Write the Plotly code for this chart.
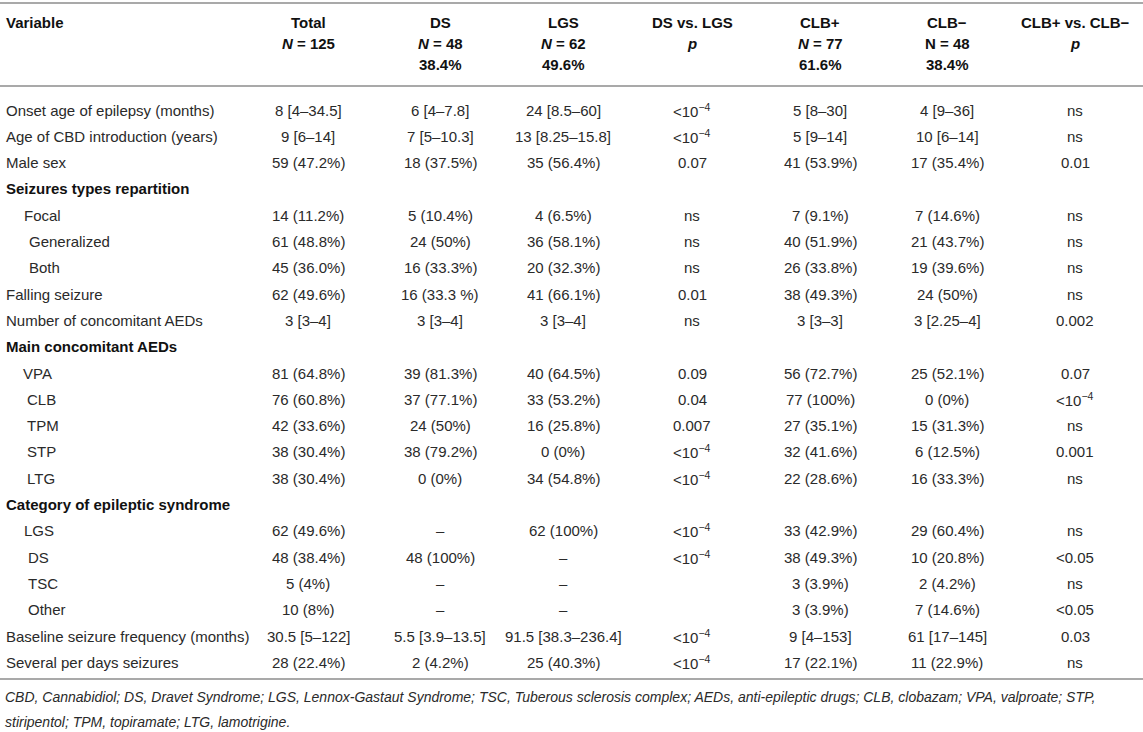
import plotly.graph_objects as go

# ---- table content ----
variables = [
    "Onset age of epilepsy (months)",
    "Age of CBD introduction (years)",
    "Male sex",
    "Seizures types repartition",
    "Focal",
    "Generalized",
    "Both",
    "Falling seizure",
    "Number of concomitant AEDs",
    "Main concomitant AEDs",
    "VPA",
    "CLB",
    "TPM",
    "STP",
    "LTG",
    "Category of epileptic syndrome",
    "LGS",
    "DS",
    "TSC",
    "Other",
    "Baseline seizure frequency (months)",
    "Several per days seizures",
]
sections = ["Seizures types repartition", "Main concomitant AEDs", "Category of epileptic syndrome"]

LT4 = "&lt;10<sup>−4</sup>"

total = ["8 [4–34.5]", "9 [6–14]", "59 (47.2%)", "", "14 (11.2%)", "61 (48.8%)", "45 (36.0%)",
         "62 (49.6%)", "3 [3–4]", "", "81 (64.8%)", "76 (60.8%)", "42 (33.6%)", "38 (30.4%)",
         "38 (30.4%)", "", "62 (49.6%)", "48 (38.4%)", "5 (4%)", "10 (8%)", "30.5 [5–122]",
         "28 (22.4%)"]
ds = ["6 [4–7.8]", "7 [5–10.3]", "18 (37.5%)", "", "5 (10.4%)", "24 (50%)", "16 (33.3%)",
      "16 (33.3 %)", "3 [3–4]", "", "39 (81.3%)", "37 (77.1%)", "24 (50%)", "38 (79.2%)",
      "0 (0%)", "", "–", "48 (100%)", "–", "–", "5.5 [3.9–13.5]", "2 (4.2%)"]
lgs = ["24 [8.5–60]", "13 [8.25–15.8]", "35 (56.4%)", "", "4 (6.5%)", "36 (58.1%)", "20 (32.3%)",
       "41 (66.1%)", "3 [3–4]", "", "40 (64.5%)", "33 (53.2%)", "16 (25.8%)", "0 (0%)",
       "34 (54.8%)", "", "62 (100%)", "–", "–", "–", "91.5 [38.3–236.4]", "25 (40.3%)"]
p_ds_lgs = [LT4, LT4, "0.07", "", "ns", "ns", "ns", "0.01", "ns", "", "0.09", "0.04", "0.007",
            LT4, LT4, "", LT4, LT4, "", "", LT4, LT4]
clb_pos = ["5 [8–30]", "5 [9–14]", "41 (53.9%)", "", "7 (9.1%)", "40 (51.9%)", "26 (33.8%)",
           "38 (49.3%)", "3 [3–3]", "", "56 (72.7%)", "77 (100%)", "27 (35.1%)", "32 (41.6%)",
           "22 (28.6%)", "", "33 (42.9%)", "38 (49.3%)", "3 (3.9%)", "3 (3.9%)", "9 [4–153]",
           "17 (22.1%)"]
clb_neg = ["4 [9–36]", "10 [6–14]", "17 (35.4%)", "", "7 (14.6%)", "21 (43.7%)", "19 (39.6%)",
           "24 (50%)", "3 [2.25–4]", "", "25 (52.1%)", "0 (0%)", "15 (31.3%)", "6 (12.5%)",
           "16 (33.3%)", "", "29 (60.4%)", "10 (20.8%)", "2 (4.2%)", "7 (14.6%)", "61 [17–145]",
           "11 (22.9%)"]
p_clb = ["ns", "ns", "0.01", "", "ns", "ns", "ns", "ns", "0.002", "", "0.07", LT4, "ns", "0.001",
         "ns", "", "ns", "&lt;0.05", "ns", "&lt;0.05", "0.03", "ns"]

headers = [
    "<b>Total</b><br><b><i>N</i> = 125</b>",
    "<b>DS</b><br><b><i>N</i> = 48</b><br><b>38.4%</b>",
    "<b>LGS</b><br><b><i>N</i> = 62</b><br><b>49.6%</b>",
    "<b>DS vs. LGS</b><br><b><i>p</i></b>",
    "<b>CLB+</b><br><b><i>N</i> = 77</b><br><b>61.6%</b>",
    "<b>CLB−</b><br><b>N = 48</b><br><b>38.4%</b>",
    "<b>CLB+ vs. CLB−</b><br><b><i>p</i></b>",
]

footnote = [
    "CBD, Cannabidiol; DS, Dravet Syndrome; LGS, Lennox-Gastaut Syndrome; TSC, Tuberous sclerosis "
    "complex; AEDs, anti-epileptic drugs; CLB, clobazam; VPA, valproate; STP,",
    "stiripentol; TPM, topiramate; LTG, lamotrigine.",
]

# ---- layout ----
W, H = 1143, 732
col_x = [308, 440, 563, 692, 820, 947, 1075]
row_y0, row_step = 110, 26.3
head_y, head_step = 22, 21
indent = {"Focal": 18, "Generalized": 23, "Both": 23, "VPA": 17, "CLB": 21, "TPM": 21, "STP": 21,
          "LTG": 21, "LGS": 18, "DS": 22, "TSC": 22, "Other": 22}
FONT = "Liberation Sans, Arial, Helvetica, sans-serif"
TXT = "#2a2a2a"
RULE = "#a9a9a9"
fs = 15

ann = []


def add(x, y, text, anchor="center", size=fs, color=TXT):
    ann.append(dict(x=x, y=y, xref="x", yref="y", text=text, showarrow=False,
                    xanchor=anchor, yanchor="middle", align=anchor if anchor != "center" else "center",
                    font=dict(family=FONT, size=size, color=color)))


add(4, head_y, "<b>Variable</b>", "left", color="#111111")
for cx, h in zip(col_x, headers):
    for j, part in enumerate(h.split("<br>")):
        add(cx, head_y + j * head_step, part, color="#111111")

columns = [total, ds, lgs, p_ds_lgs, clb_pos, clb_neg, p_clb]
for i, var in enumerate(variables):
    y = row_y0 + i * row_step
    if var in sections:
        add(4, y, f"<b>{var}</b>", "left", color="#111111")
        continue
    add(4 + indent.get(var, 0), y, var, "left")
    for cx, col in zip(col_x, columns):
        if col[i]:
            add(cx, y, col[i])

for k, line in enumerate(footnote):
    add(3, 697 + k * 25, f"<i>{line}</i>", "left", size=14)

shapes = [dict(type="line", xref="x", yref="y", x0=0, x1=W, y0=yy, y1=yy,
               line=dict(color=RULE, width=2)) for yy in (3, 86, 679)]

fig = go.Figure()
fig.update_layout(
    width=W, height=H,
    margin=dict(l=0, r=0, t=0, b=0),
    paper_bgcolor="white", plot_bgcolor="white",
    xaxis=dict(range=[0, W], visible=False, fixedrange=True),
    yaxis=dict(range=[H, 0], visible=False, fixedrange=True),
    annotations=ann, shapes=shapes, showlegend=False,
)
fig.write_html("out.html", config={"displayModeBar": False},
               post_script="document.body.style.margin='0';document.body.style.overflow='hidden';")
